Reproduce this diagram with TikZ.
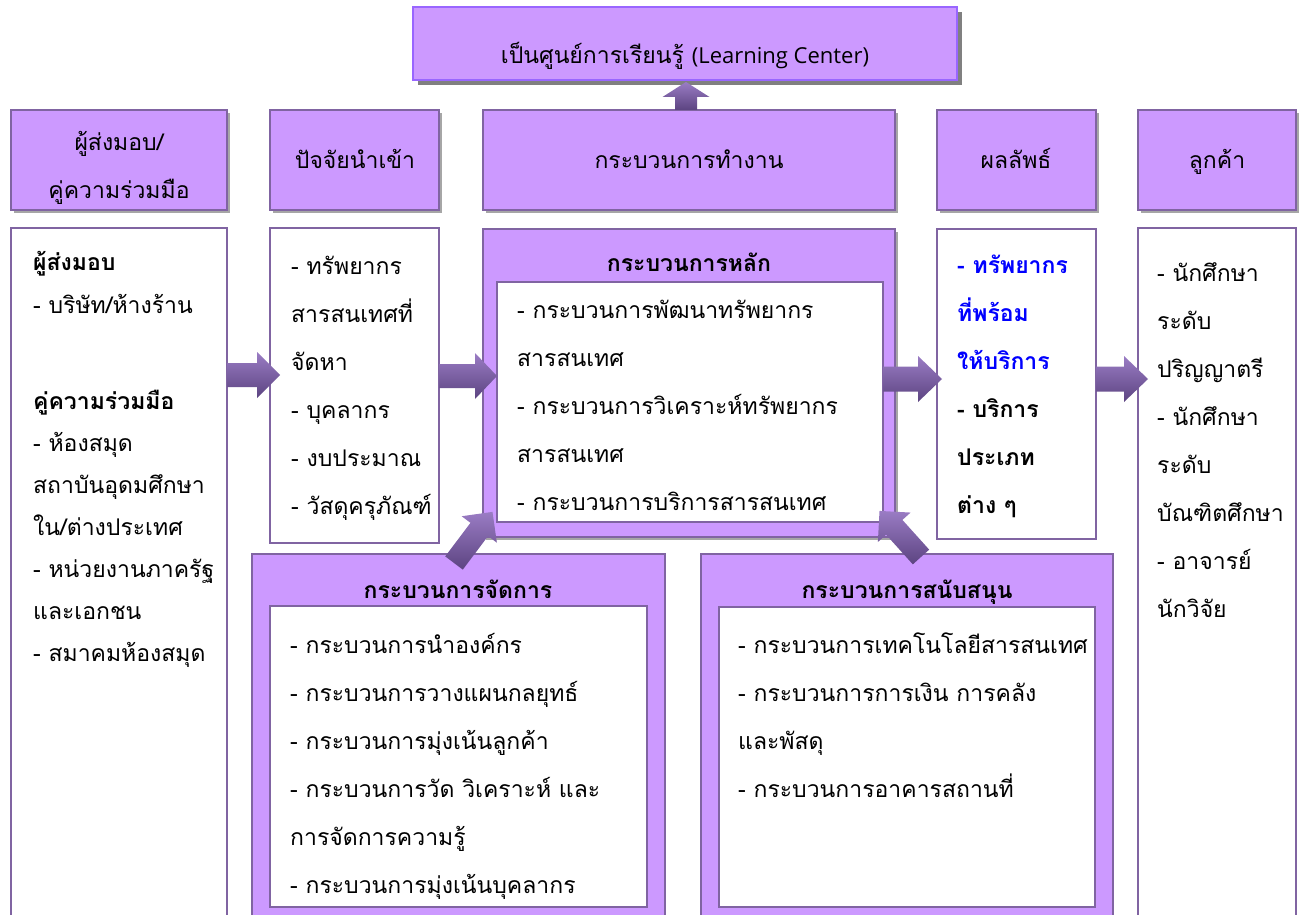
\documentclass[tikz,border=0pt]{standalone}
\usepackage{fontspec}
\setmainfont[Script=Thai]{Loma}
\newfontfamily\latinfont{Open Sans}
\usetikzlibrary{calc,shadows}
\definecolor{pfill}{HTML}{CC99FF}
\definecolor{pline}{HTML}{8064A2}
\definecolor{tline}{HTML}{9966FF}
\definecolor{arrA}{HTML}{9A7CC4}
\definecolor{arrB}{HTML}{5C4481}
\definecolor{tblue}{HTML}{0000FF}
\newcommand\bodyfs{\fontsize{23}{28}\selectfont}
\tikzset{
  pics/barrow/.style n args={4}{code={%
    \shade[top color=arrA, bottom color=arrB]
      (0,-#2) -- ({#1-#4},-#2) -- ({#1-#4},-#3) -- (#1,0) --
      ({#1-#4},#3) -- ({#1-#4},#2) -- (0,#2) -- cycle;
  }}
}
\begin{document}
\begin{tikzpicture}[x=1pt,y=-1pt,
  boxbase/.style={inner sep=0pt, outer sep=0pt, anchor=north west},
  topbox/.style={boxbase, draw=tline, line width=2pt, fill=pfill,
    drop shadow={shadow xshift=5pt,shadow yshift=-5pt,fill=black!50,opacity=1}},
  hdr/.style={boxbase, draw=pline, line width=2pt, fill=pfill,
    drop shadow={shadow xshift=3pt,shadow yshift=-3pt,fill=black!35,opacity=1}},
  colbox/.style={boxbase, draw=pline, line width=2.5pt, fill=white},
  pbox/.style={boxbase, draw=pline, line width=2pt, fill=pfill},
  pboxs/.style={pbox, drop shadow={shadow xshift=3pt,shadow yshift=-3pt,fill=black!35,opacity=1}},
  txt/.style={inner sep=0pt, anchor=base west, font=\bodyfs},
  btxt/.style={txt, font=\bodyfs\bfseries},
  ctxt/.style={inner sep=0pt, anchor=base, font=\bodyfs},
  cbtxt/.style={ctxt, font=\bodyfs\bfseries},
]
\useasboundingbox (0,0) rectangle (1304,915);
\clip (0,0) rectangle (1304,915);

% ---------- top box ----------
\node[topbox, minimum width=544pt, minimum height=73pt] (top) at (413,7) {};
\node[ctxt] (toptxt) at (685,64) {เป็นศูนย์การเรียนรู้\hspace{8pt}{\latinfont\fontsize{22}{26}\selectfont(Learning Center)}};

% ---------- header row ----------
\node[hdr, minimum width=216pt, minimum height=100pt] (h1) at (11,110) {};
\node[hdr, minimum width=169pt, minimum height=100pt] (h2) at (270,110) {};
\node[hdr, minimum width=412pt, minimum height=100pt] (h3) at (483,110) {};
\node[hdr, minimum width=159pt, minimum height=100pt] (h4) at (937,110) {};
\node[hdr, minimum width=158pt, minimum height=100pt] (h5) at (1138,110) {};
\node[ctxt] (h1a) at (119,150) {ผู้ส่งมอบ/};
\node[ctxt] (h1b) at (119,198) {คู่ความร่วมมือ};
\node[ctxt] (h2t) at (355,168) {ปัจจัยนำเข้า};
\node[ctxt] (h3t) at (689,168) {กระบวนการทำงาน};
\node[ctxt] (h4t) at (1016,168) {ผลลัพธ์};
\node[ctxt] (h5t) at (1217,168) {ลูกค้า};

% ---------- content columns ----------
\node[colbox, minimum width=216pt, minimum height=720pt] (c1) at (11,228) {};
\node[colbox, minimum width=169pt, minimum height=315pt] (c2) at (270,228) {};
\node[pboxs, minimum width=412pt, minimum height=308pt] (c3) at (483,229) {};
\node[colbox, minimum width=386pt, minimum height=240pt] (c3in) at (497,282) {};
\node[colbox, minimum width=159pt, minimum height=310pt] (c4) at (937,229) {};
\node[colbox, minimum width=158pt, minimum height=720pt] (c5) at (1138,228) {};

% ---------- bottom process boxes ----------
\node[pbox, minimum width=413pt, minimum height=420pt] (m) at (252,554) {};
\node[colbox, minimum width=377pt, minimum height=301pt] (min) at (270,606) {};
\node[pbox, minimum width=412pt, minimum height=420pt] (s) at (701,554) {};
\node[colbox, minimum width=376pt, minimum height=300pt] (sin) at (719,607) {};

% ---------- column 1 text ----------
\node[btxt] (c1l1) at (33,270) {ผู้ส่งมอบ};
\node[txt]  (c1l2) at (33,313) {- บริษัท/ห้างร้าน};
\node[btxt] (c1l3) at (33,409) {คู่ความร่วมมือ};
\foreach \t [count=\i from 0] in {- ห้องสมุด, สถาบันอุดมศึกษา, ใน/ต่างประเทศ, - หน่วยงานภาครัฐ, และเอกชน, - สมาคมห้องสมุด}
  \node[txt] (c1m\i) at (33,451+42*\i) {\t};

% ---------- column 2 text ----------
\foreach \t [count=\i from 0] in {- ทรัพยากร, สารสนเทศที่, จัดหา, - บุคลากร, - งบประมาณ, - วัสดุครุภัณฑ์}
  \node[txt] (c2l\i) at (291,274+48*\i) {\t};

% ---------- column 3 text ----------
\node[cbtxt] (c3t) at (689,271) {กระบวนการหลัก};
\foreach \t [count=\i from 0] in {- กระบวนการพัฒนาทรัพยากร, สารสนเทศ, - กระบวนการวิเคราะห์ทรัพยากร, สารสนเทศ, - กระบวนการบริการสารสนเทศ}
  \node[txt] (c3l\i) at (517,318+48*\i) {\t};

% ---------- column 4 text ----------
\foreach \t [count=\i from 0] in {- ทรัพยากร, ที่พร้อม, ให้บริการ}
  \node[btxt, text=tblue] (c4b\i) at (957,273+48*\i) {\t};
\foreach \t [count=\i from 0] in {- บริการ, ประเภท, ต่าง ๆ}
  \node[btxt] (c4k\i) at (957,417+48*\i) {\t};

% ---------- column 5 text ----------
\foreach \t [count=\i from 0] in {- นักศึกษา, ระดับ, ปริญญาตรี, - นักศึกษา, ระดับ, บัณฑิตศึกษา, - อาจารย์, นักวิจัย}
  \node[txt] (c5l\i) at (1157,281+48*\i) {\t};

% ---------- management text ----------
\node[cbtxt] (mt) at (458,598) {กระบวนการจัดการ};
\foreach \t [count=\i from 0] in {- กระบวนการนำองค์กร, - กระบวนการวางแผนกลยุทธ์, - กระบวนการมุ่งเน้นลูกค้า, - กระบวนการวัด วิเคราะห์ และ, การจัดการความรู้, - กระบวนการมุ่งเน้นบุคลากร}
  \node[txt] (ml\i) at (290,653+48*\i) {\t};

% ---------- support text ----------
\node[cbtxt] (st) at (907,598) {กระบวนการสนับสนุน};
\foreach \t [count=\i from 0] in {- กระบวนการเทคโนโลยีสารสนเทศ, - กระบวนการการเงิน การคลัง, และพัสดุ, - กระบวนการอาคารสถานที่}
  \node[txt] (sl\i) at (738,653+48*\i) {\t};

% ---------- block arrows ----------
\coordinate (a1) at ($(c1.north east)+(0,147)$);
\coordinate (a2) at ($(c2.north east)+(0,148)$);
\coordinate (a3) at ($(c3in.north east)+(0,97)$);
\coordinate (a4) at ($(c4.north east)+(0,150)$);
\coordinate (au) at ($(h3.north west)+(203,0)$);
\coordinate (ad1) at (454,563);
\coordinate (ad2) at (921,557);
\pic (arr1) at (a1) {barrow={53}{12}{23}{23}};
\pic (arr2) at (a2) {barrow={58}{12}{23}{22}};
\pic (arr3) at (a3) {barrow={59}{12.5}{23}{24}};
\pic (arr4) at (a4) {barrow={52}{12.5}{23}{24}};
\pic[rotate=90] (arru) at (au) {barrow={28}{11}{23.5}{15}};
\pic[rotate=53] (arrd1) at (ad1) {barrow={64}{11}{22}{22}};
\pic[rotate=132] (arrd2) at (ad2) {barrow={62}{11}{22}{22}};
\end{tikzpicture}
\end{document}
